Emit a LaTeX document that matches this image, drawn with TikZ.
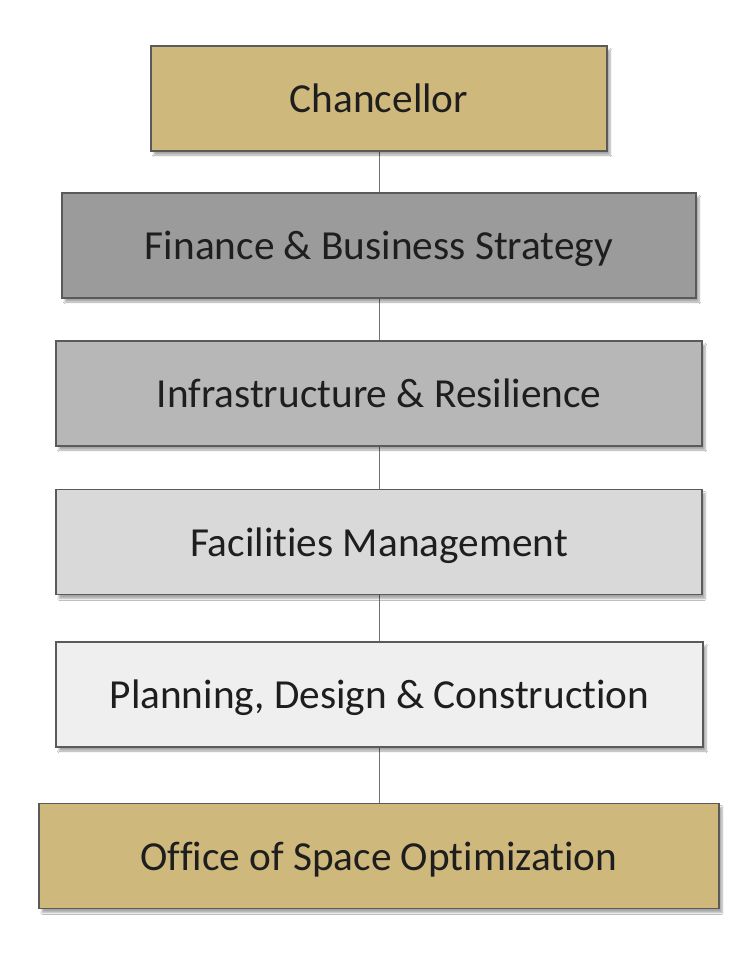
\documentclass[tikz,border=0pt]{standalone}
\usepackage{fontspec}
\setmainfont{Carlito}[Ligatures=NoCommon]
\usetikzlibrary{shadows.blur}
\definecolor{gold}{HTML}{CFB87C}
\definecolor{level1}{HTML}{9B9B9B}
\definecolor{level2}{HTML}{B7B7B7}
\definecolor{level3}{HTML}{D9D9D9}
\definecolor{level4}{HTML}{EFEFEF}
\definecolor{edge}{HTML}{5A5A5A}
\definecolor{link}{HTML}{707070}
\definecolor{label}{HTML}{1E1E1E}
\tikzset{
  unit/.style = {
    shape=rectangle, draw=edge, line width=1.6pt, text=label,
    minimum height=105pt, inner sep=0pt, text depth=-3pt,
    font=\fontsize{41.3}{48}\selectfont,
    blur shadow={shadow xshift=3pt, shadow yshift=-4pt, shadow blur steps=6, shadow opacity=35}
  },
  link/.style = {draw=link, line width=1pt},
}
\begin{document}
\begin{tikzpicture}[x=1pt,y=-1pt]
  \useasboundingbox[fill=white] (0,0) rectangle (750,969);
  % connectors first, boxes on top
  \coordinate (top) at (379,98.5);
  \coordinate (bottom) at (379,856);
  \draw[link] (top) -- (bottom);

  \node (chancellor) [unit, fill=gold, minimum width=456pt] at (379,98.5) {Chancellor};
  \node (finance)    [unit, fill=level1, minimum width=634pt] at (379,245.5) {Finance \& Business Strategy};
  \node (infra)      [unit, fill=level2, minimum width=646pt] at (379,393.5) {Infrastructure \& Resilience};
  \node (facilities) [unit, fill=level3, minimum width=646pt] at (379,542) {Facilities Management};
  \node (planning)   [unit, fill=level4, minimum width=647pt] at (379.5,694.5) {Planning, Design \& Construction};
  \node (space)      [unit, fill=gold, minimum width=680pt] at (379,856) {Office of Space Optimization};
\end{tikzpicture}
\end{document}
